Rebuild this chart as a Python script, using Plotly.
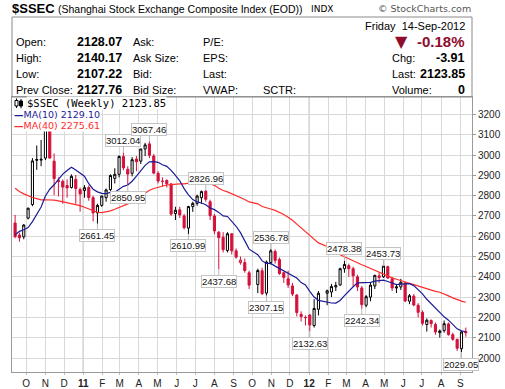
import plotly.graph_objects as go
import pandas as pd
import numpy as np

# ---------------- data (weekly, dated by week-start Monday) ----------------
week = ["2010-09-13","2010-09-20","2010-09-27","2010-10-04","2010-10-11","2010-10-18","2010-10-25",
        "2010-11-01","2010-11-08","2010-11-15","2010-11-22","2010-11-29","2010-12-06","2010-12-13",
        "2010-12-20","2010-12-27","2011-01-03","2011-01-10","2011-01-17","2011-01-24","2011-01-31",
        "2011-02-07","2011-02-14","2011-02-21","2011-02-28","2011-03-07","2011-03-14","2011-03-21",
        "2011-03-28","2011-04-04","2011-04-11","2011-04-18","2011-04-25","2011-05-02","2011-05-09",
        "2011-05-16","2011-05-23","2011-05-30","2011-06-06","2011-06-13","2011-06-20","2011-06-27",
        "2011-07-04","2011-07-11","2011-07-18","2011-07-25","2011-08-01","2011-08-08","2011-08-15",
        "2011-08-22","2011-08-29","2011-09-05","2011-09-12","2011-09-19","2011-09-26","2011-10-10",
        "2011-10-17","2011-10-24","2011-10-31","2011-11-07","2011-11-14","2011-11-21","2011-11-28",
        "2011-12-05","2011-12-12","2011-12-19","2011-12-26","2012-01-02","2012-01-09","2012-01-16",
        "2012-01-30","2012-02-06","2012-02-13","2012-02-20","2012-02-27","2012-03-05","2012-03-12",
        "2012-03-19","2012-03-26","2012-04-02","2012-04-09","2012-04-16","2012-04-23","2012-04-30",
        "2012-05-07","2012-05-14","2012-05-21","2012-05-28","2012-06-04","2012-06-11","2012-06-18",
        "2012-06-25","2012-07-02","2012-07-09","2012-07-16","2012-07-23","2012-07-30","2012-08-06",
        "2012-08-13","2012-08-20","2012-08-27","2012-09-03","2012-09-10"]
opens  = [2665,2606,2597,2689,2756,2978,2975,2985,3166,2970,2875,2870,2850,2840,2880,2830,2825,2840,2790,2715,2752,
          2790,2830,2885,2905,2993,2930,2910,2980,2970,3030,3055,2995,2910,2870,2875,2858,2712,2730,2700,2640,2746,
          2762,2790,2822,2770,2700,2620,2595,2530,2612,2528,2470,2470,2420,2362,2430,2320,2470,2525,2485,2420,2390,
          2355,2310,2215,2200,2212,2160,2240,2319,2325,2350,2360,2440,2455,2440,2400,2345,2260,2300,2355,2405,2400,
          2450,2390,2345,2350,2370,2280,2305,2260,2225,2165,2185,2165,2125,2135,2168,2115,2092,2046,2131]
highs  = [2705,2618,2660,2741,2985,3047,3074,3159,3186.72,3008,2890,2880,2880,2905,2902,2840,2852,2850,2800,2760,2800,
          2835,2905,2935,2998,3012.04,2945,2990,2995,3030,3060,3067.46,3005,2920,2890,2880,2860,2745,2745,2710,2750,2770,
          2805,2825,2826.96,2780,2710,2625,2620,2620,2615,2540,2500,2490,2430,2440,2445,2480,2536.78,2535,2495,2425,2430,
          2370,2315,2230,2210,2216,2290,2330,2337,2365,2375,2445,2478.38,2465,2450,2410,2355,2310,2370,2410,2420,2453.73,
          2455,2400,2365,2390,2375,2315,2315,2270,2235,2195,2190,2175,2140,2185,2175,2125,2095,2134,2150]
lows   = [2590,2573,2585,2683,2748,2927,2945,2975,2982,2802,2796,2760,2790,2835,2760,2721,2790,2775,2673,2661.45,2745,
          2770,2820,2860,2890,2925,2850.95,2895,2920,2955,2995,2985,2905,2860,2845,2840,2700,2680,2690,2634,2610.99,2720,
          2750,2760,2770,2680,2610,2437.68,2520,2520,2510,2490,2460,2420,2340,2320,2310,2307.15,2460,2465,2410,2370,2345,
          2305,2205,2180,2160,2132.63,2150,2210,2260,2300,2330,2355,2420,2400,2355,2330,2242.34,2250,2280,2340,2370,2395,
          2390,2330,2320,2335,2275,2265,2255,2200,2160,2130,2150,2115,2100,2125,2110,2085,2035,2029.05,2105]
closes = [2598,2592,2655,2738,2971,2975,2979,3159,2985,2884,2870,2842,2838,2895,2835,2808,2839,2791,2715,2752,2798,
          2828,2899,2905,2993,2937,2906,2977,2967,3030,3050,2999,2911,2872,2871,2858,2709,2728,2705,2642,2746,2762,
          2798,2820,2782,2701,2626,2593,2534,2612,2528,2497,2482,2431,2359,2431,2317,2473,2528,2481,2416,2397,2360,
          2315,2224,2204,2199,2163,2244,2319,2331,2352,2357,2440,2461,2440,2405,2350,2263,2302,2359,2407,2396,2453,
          2394,2345,2350,2373,2281,2307,2261,2225,2171,2186,2169,2128,2133,2169,2115,2092,2048,2128,2123.85]
# weekly closes before the first candle (Dec 2009 - Sep 2010), needed for the moving averages
pre_closes = [3247,3114,3153,3277,3196,3224,3128,2989,2939,3018,3051,3031,2975,3067,3059,3143,3132,3130,2979,2870,
              2688,2697,2583,2656,2553,2569,2514,2552,2382,2470,2424,2573,2637,2672,2598,2642,2610,2655,2663]

# swing labels (week, "H" = label the high, "L" = label the low)
pivot_week = ["2011-01-24","2011-03-07","2011-03-14","2011-04-18","2011-06-20","2011-07-18","2011-08-08",
              "2011-10-24","2011-10-31","2012-01-02","2012-02-27","2012-03-26","2012-04-30","2012-09-03"]
pivot_kind = ["L","H","L","H","L","H","L","L","H","L","H","L","H","L"]

legend_texts = ["$SSEC (Weekly) 2123.85", "MA(10) 2129.10", "MA(40) 2275.61"]

month_ticks = ["2010-10-01","2010-11-01","2010-12-01","2011-01-01","2011-02-01","2011-03-01","2011-04-01",
               "2011-05-01","2011-06-01","2011-07-01","2011-08-01","2011-09-01","2011-10-01","2011-11-01",
               "2011-12-01","2012-01-01","2012-02-01","2012-03-01","2012-04-01","2012-05-01","2012-06-01",
               "2012-07-01","2012-08-01","2012-09-01"]
month_labels = ["O","N","D","<b>11</b>","F","M","A","M","J","J","A","S","O","N","D","<b>12</b>",
                "F","M","A","M","J","J","A","S"]
year_lines = ["2011-01-01", "2012-01-01"]
y_ticks = [2000,2100,2200,2300,2400,2500,2600,2700,2800,2900,3000,3100,3200]

# ---------------- computations ----------------
dates = pd.to_datetime(week)
O = np.array(opens, float); H = np.array(highs, float); L = np.array(lows, float); C = np.array(closes, float)
allc = pd.Series(pre_closes + closes, dtype=float)
n0 = len(pre_closes)
ma10 = allc.rolling(10).mean().values[n0:]
ma40 = allc.rolling(40).mean().values[n0:]
prev = np.concatenate([[pre_closes[-1]], C[:-1]])
up = C >= prev

RED = "#d4113b"
BLK = "#000000"

fig = go.Figure()

def subset(mask):
    d = dates[mask]
    return dict(x=d, open=O[mask], high=H[mask], low=L[mask], close=C[mask])

fig.add_trace(go.Candlestick(**subset(up),
    increasing=dict(line=dict(color=BLK, width=1), fillcolor="white"),
    decreasing=dict(line=dict(color=BLK, width=1), fillcolor=BLK),
    whiskerwidth=0, showlegend=False, hoverinfo="skip"))
fig.add_trace(go.Candlestick(**subset(~up),
    increasing=dict(line=dict(color=RED, width=1), fillcolor="white"),
    decreasing=dict(line=dict(color=RED, width=1), fillcolor=RED),
    whiskerwidth=0, showlegend=False, hoverinfo="skip"))
fig.add_trace(go.Scatter(x=dates, y=ma40, mode="lines", line=dict(color="#ff2b2b", width=1.2),
                         showlegend=False, hoverinfo="skip"))
fig.add_trace(go.Scatter(x=dates, y=ma10, mode="lines", line=dict(color="#1c1c96", width=1.2),
                         showlegend=False, hoverinfo="skip"))

# ---------------- geometry helpers (pixel -> paper) ----------------
W, Hh = 505, 389
ML, MR, MT, MB = 12, 33, 97, 17
PW, PH = W - ML - MR, Hh - MT - MB
def px(x): return (x - ML) / PW
def py(y): return (Hh - MB - y) / PH

ann = []
# swing labels
dmap = {d: i for i, d in enumerate(week)}
for wk, kind in zip(pivot_week, pivot_kind):
    i = dmap[wk]
    val = H[i] if kind == "H" else L[i]
    ann.append(dict(x=dates[i], y=val, xref="x", yref="y", text=f"{val:.2f}",
                    showarrow=True, arrowhead=0, arrowwidth=1, arrowcolor="#b8b8b8",
                    ax=0, ay=(-12 if kind == "H" else 12),
                    bgcolor="white", bordercolor="#c4c4c4", borderwidth=1, borderpad=0,
                    font=dict(family="Liberation Sans", size=9.5, color="#111")))

# legend lines
ann.append(dict(x=px(26), y=py(103), xref="paper", yref="paper", xanchor="left", yanchor="middle",
                text=legend_texts[0], showarrow=False, bgcolor="white", borderpad=0,
                font=dict(family="DejaVu Sans Mono", size=10.5, color="#000")))
ann.append(dict(x=px(13), y=py(114.5), xref="paper", yref="paper", xanchor="left", yanchor="middle",
                text="<b>\u2014</b>" + legend_texts[1], showarrow=False, bgcolor="white", borderpad=0,
                font=dict(family="DejaVu Sans", size=9.5, color="#1c1c96")))
ann.append(dict(x=px(13), y=py(125), xref="paper", yref="paper", xanchor="left", yanchor="middle",
                text="<b>\u2014</b>" + legend_texts[2], showarrow=False, bgcolor="white", borderpad=0,
                font=dict(family="DejaVu Sans", size=9.5, color="#ff2b2b")))

# header
def txt(x, y, s, size=11, bold=False, color="#000", anchor="left", family="Liberation Sans"):
    ann.append(dict(x=px(x), y=py(y), xref="paper", yref="paper", xanchor=anchor, yanchor="middle",
                    text=(f"<b>{s}</b>" if bold else s), showarrow=False, borderpad=0,
                    font=dict(family=family, size=size, color=color)))

txt(11, 9, "$SSEC", size=13, bold=True)
txt(57, 9, "(Shanghai Stock Exchange Composite Index (EOD))", size=10.5)
txt(310, 9, "INDX", size=9, family="DejaVu Sans")
txt(472, 9, "\u00a9 StockCharts.com", size=9.5, color="#555", anchor="right", family="DejaVu Sans")
txt(466, 26, "Friday  14-Sep-2012", size=11, anchor="right")
rows_y = [42, 58, 74, 90]
col1 = ["Open:", "High:", "Low:", "Prev Close:"]
col1v = ["2128.07", "2140.17", "2107.22", "2127.76"]
col2 = ["Ask:", "Ask Size:", "Bid:", "Bid Size:"]
col3 = ["P/E:", "EPS:", "Last:", "VWAP:"]
for yy, a, b, c, d in zip(rows_y, col1, col1v, col2, col3):
    txt(15, yy, a)
    txt(123, yy, b, size=12.5, bold=True, anchor="right")
    txt(132, yy, c)
    txt(202, yy, d)
txt(262, 90, "SCTR:")
txt(391, 58, "Chg:"); txt(466, 58, "-3.91", size=12.5, bold=True, anchor="right")
txt(391, 74, "Last:"); txt(466, 74, "2123.85", size=12.5, bold=True, anchor="right")
txt(391, 90, "Volume:"); txt(466, 90, "0", size=12.5, bold=True, anchor="right")
txt(401, 41, "\u25bc", size=16, color="#8e0c2c", anchor="center", family="DejaVu Sans")
txt(466, 41, "-0.18%", size=15, bold=True, color="#8e0c2c", anchor="right")

shapes = []
shapes.append(dict(type="rect", xref="paper", yref="paper", x0=px(12), x1=px(472), y0=py(97), y1=py(17),
                   line=dict(color="#8a8a8a", width=1), fillcolor="rgba(0,0,0,0)", layer="above"))
for yl in year_lines:
    shapes.append(dict(type="line", xref="x", yref="paper", x0=yl, x1=yl, y0=0, y1=1,
                       line=dict(color="#a6a6a6", width=1), layer="below"))
# legend candle icon
shapes.append(dict(type="line", xref="paper", yref="paper", x0=px(16.5), x1=px(16.5), y0=py(98.5), y1=py(108),
                   line=dict(color="#000", width=1), layer="above"))
shapes.append(dict(type="rect", xref="paper", yref="paper", x0=px(15), x1=px(18), y0=py(100.5), y1=py(106),
                   line=dict(color="#000", width=1), fillcolor="white", layer="above"))
shapes.append(dict(type="line", xref="paper", yref="paper", x0=px(21), x1=px(21), y0=py(99), y1=py(108.5),
                   line=dict(color="#000", width=1), layer="above"))
shapes.append(dict(type="rect", xref="paper", yref="paper", x0=px(19.5), x1=px(22.5), y0=py(101), y1=py(106),
                   line=dict(color="#000", width=1), fillcolor="#000", layer="above"))

fig.update_layout(
    width=W, height=Hh, margin=dict(l=ML, r=MR, t=MT, b=MB, pad=0, autoexpand=False),
    paper_bgcolor="white", plot_bgcolor="white", showlegend=False,
    annotations=ann, shapes=shapes, hovermode=False, boxgap=0.3,
    font=dict(family="Liberation Sans", size=10, color="#222"),
    xaxis=dict(type="date", range=["2010-09-08", "2012-09-20"], rangeslider=dict(visible=False),
               tickvals=month_ticks, ticktext=month_labels, showgrid=True, gridcolor="#d9d9d9", gridwidth=1,
               showline=True, linecolor="#9a9a9a", mirror=True, ticks="outside", ticklen=2, tickcolor="#bbb",
               tickfont=dict(family="Liberation Sans", size=10, color="#222"), zeroline=False,
               automargin=False),
    yaxis=dict(side="right", range=[1931, 3286], tickvals=y_ticks, showgrid=True, gridcolor="#d9d9d9",
               showline=True, linecolor="#9a9a9a", mirror=True, ticks="outside", ticklen=3, tickcolor="#999",
               tickfont=dict(family="Liberation Sans", size=10, color="#222"), zeroline=False,
               automargin=False),
)

print("MA10 last", ma10[-1], "MA40 last", ma40[-1])
fig.write_html("out.html", config={"displayModeBar": False},
               post_script="document.body.style.margin='0';document.body.style.overflow='hidden';")
